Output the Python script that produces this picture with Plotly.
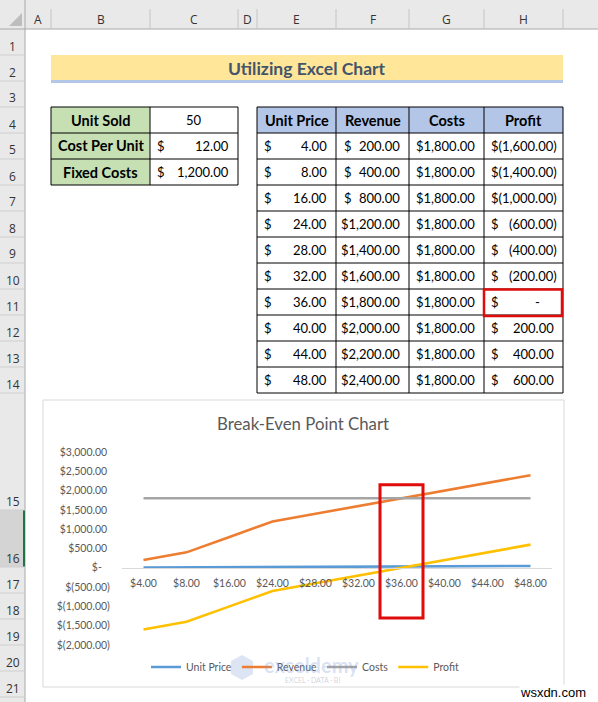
import plotly.graph_objects as go

# ---------------- data ----------------
units_sold = 50
cost_per_unit = 12.00
fixed_costs = 1200.00

unit_price = [4, 8, 16, 24, 28, 32, 36, 40, 44, 48]
revenue = [200, 400, 800, 1200, 1400, 1600, 1800, 2000, 2200, 2400]
costs = [1800, 1800, 1800, 1800, 1800, 1800, 1800, 1800, 1800, 1800]
profit = [-1600, -1400, -1000, -600, -400, -200, 0, 200, 400, 600]

y_ticks = [3000, 2500, 2000, 1500, 1000, 500, 0, -500, -1000, -1500, -2000]

col_letters = ["A", "B", "C", "D", "E", "F", "G", "H"]
row_numbers = list(range(1, 22))

series_names = ["Unit Price", "Revenue", "Costs", "Profit"]
series_colors = ["#5b9bd5", "#ed7d31", "#a5a5a5", "#ffc000"]

# ---------------- geometry helpers ----------------
W, H = 598, 702
ML, MR, MT, MB = 122, 46, 452, 57
PW = W - ML - MR
PH = H - MT - MB


def X(px):
    return (px - ML) / PW


def Y(py):
    return 1 - (py - MT) / PH


FONT = "Lato, Calibri, Carlito, sans-serif"
UI_FONT = "Open Sans, Segoe UI, sans-serif"
NUM = 13
BOLD = 14.5

shapes = []
annotations = []


def rect(x0, y0, x1, y1, fill=None, line=None, lw=1, layer="below"):
    shapes.append(dict(
        type="rect", xref="paper", yref="paper",
        x0=X(x0), x1=X(x1), y0=Y(y1), y1=Y(y0),
        fillcolor=fill if fill else "rgba(0,0,0,0)",
        line=dict(color=line if line else "rgba(0,0,0,0)", width=lw if line else 0),
        layer=layer))


def hline(x0, x1, y, color, lw=1, layer="below"):
    shapes.append(dict(type="line", xref="paper", yref="paper",
                       x0=X(x0), x1=X(x1), y0=Y(y), y1=Y(y),
                       line=dict(color=color, width=lw), layer=layer))


def vline(x, y0, y1, color, lw=1, layer="below"):
    shapes.append(dict(type="line", xref="paper", yref="paper",
                       x0=X(x), x1=X(x), y0=Y(y0), y1=Y(y1),
                       line=dict(color=color, width=lw), layer=layer))


def ann(text, px, py, size=12, color="#000000", xanchor="center", family=FONT, bg=None):
    d = dict(text=text, x=X(px), y=Y(py), xref="paper", yref="paper",
             showarrow=False, xanchor=xanchor, yanchor="middle",
             font=dict(size=size, color=color, family=family), borderpad=0)
    if bg:
        d["bgcolor"] = bg
    annotations.append(d)


def acct(v):
    if v == 0:
        return "-"
    s = f"{abs(v):,.2f}"
    return f"({s})" if v < 0 else s


# ---------------- sheet chrome ----------------
col_edges = [25, 51, 150, 238, 257, 336, 409, 484, 563]
row_edges = [29 + 26 * k for k in range(15)] + [510, 567, 593, 619, 645, 671, 697, 723]

rect(0, 0, W, 29, fill="#e9e9e9")
rect(0, 29, 25, H, fill="#e9e9e9")
rect(0, 510, 25, 567, fill="#d4d4d4")
hline(0, W, 29, "#a8a8a8")
vline(25, 0, H, "#a8a8a8")
vline(24, 510, 567, "#217346", lw=2)
for x in col_edges[1:]:
    vline(x, 9, 29, "#c4c4c4")
for y in row_edges[1:]:
    if y < H:
        hline(0, 25, y, "#cfcfcf")
shapes.append(dict(type="path", xref="paper", yref="paper",
                   path=f"M {X(9)},{Y(26)} L {X(22)},{Y(26)} L {X(22)},{Y(13)} Z",
                   fillcolor="#bdbdbd", line=dict(width=0), layer="below"))

for i, letter in enumerate(col_letters):
    cx = (col_edges[i] + col_edges[i + 1]) / 2
    ann(letter, cx, 19, size=12, color="#333333", family=UI_FONT)
for i, r in enumerate(row_numbers):
    bottom = row_edges[i + 1]
    ann(str(r), 13, bottom - 9, size=12, color="#333333", family=UI_FONT)

# ---------------- title band ----------------
rect(51, 55, 563, 80, fill="#ffe699")
rect(51, 80, 563, 83, fill="#b4c7e7")
ann("<b>Utilizing Excel Chart</b>", 307, 68, size=17.5, color="#44546a")

# ---------------- left input table ----------------
rect(51, 107, 150, 185, fill="#c6e0b4")
for y in [107, 133, 159, 185]:
    hline(51, 238, y, "#000000")
for x in [51, 150, 238]:
    vline(x, 107, 185, "#000000")
ann("<b>Unit Sold</b>", 100.5, 120, size=BOLD)
ann("<b>Cost Per Unit</b>", 100.5, 146, size=BOLD)
ann("<b>Fixed Costs</b>", 100.5, 172, size=BOLD)
ann(str(units_sold), 194, 120, size=NUM)
ann("$", 156, 146, size=NUM, xanchor="left")
ann(acct(cost_per_unit), 230, 146, size=NUM, xanchor="right")
ann("$", 156, 172, size=NUM, xanchor="left")
ann(acct(fixed_costs), 230, 172, size=NUM, xanchor="right")

# ---------------- right data table ----------------
tcols = [257, 336, 409, 484, 563]
rect(257, 107, 563, 133, fill="#b4c6e7")
for k in range(12):
    hline(257, 563, 107 + 26 * k, "#000000")
for x in tcols:
    vline(x, 107, 393, "#000000")
for i, name in enumerate(series_names):
    ann(f"<b>{name}</b>", (tcols[i] + tcols[i + 1]) / 2, 120, size=BOLD)

table_cols = [unit_price, revenue, costs, profit]
dollar_x = [263, 343, 417, 490]
for r in range(len(unit_price)):
    cy = 146 + 26 * r
    for c, vals in enumerate(table_cols):
        right = tcols[c + 1]
        v = vals[r]
        rx = right - 5 if v < 0 else (right - 22 if v == 0 else right - 8)
        if abs(v) >= 1000:
            # the number fills the cell: "$" sits right against it
            ann("$" + acct(v), rx, cy, size=NUM, xanchor="right")
        else:
            ann("$", dollar_x[c], cy, size=NUM, xanchor="left")
            ann(acct(v), rx, cy, size=NUM, xanchor="right")
rect(484, 289.5, 562, 316, line="#e00b0b", lw=2.5, layer="above")

# ---------------- chart area ----------------
rect(43, 400, 564, 687, fill="#ffffff", line="#d9d9d9", lw=1)
ann("Break-Even Point Chart", 303, 423, size=16.8, color="#595959")

# watermark
shapes.append(dict(type="path", xref="paper", yref="paper",
                   path=(f"M {X(242)},{Y(655)} L {X(253)},{Y(661)} L {X(253)},{Y(674)} "
                         f"L {X(242)},{Y(680)} L {X(231)},{Y(674)} L {X(231)},{Y(661)} Z"),
                   fillcolor="rgba(120,150,210,0.25)", line=dict(width=0), layer="above"))
ann("<b>exceldemy</b>", 311, 665, size=20, color="rgba(120,150,210,0.28)")
ann("EXCEL · DATA · BI", 312, 680, size=7, color="rgba(120,130,150,0.35)")

ann("wsxdn.com", 587, 692, size=13, color="#000000", xanchor="right",
    family="Liberation Sans, Arial, sans-serif", bg="#ffffff")

# ---------------- traces ----------------
cats = [f"${p:.2f}" for p in unit_price]
fig = go.Figure()
for name, vals, color in zip(series_names, table_cols, series_colors):
    fig.add_trace(go.Scatter(x=cats, y=vals, mode="lines", name=name,
                             line=dict(color=color, width=2.6)))

# highlight box around break-even category
shapes.append(dict(type="rect", xref="x", yref="y", x0=5.5, x1=6.5, y0=-1300, y1=2150,
                   line=dict(color="#e00b0b", width=3), fillcolor="rgba(0,0,0,0)",
                   layer="above"))


def ytick(v):
    if v == 0:
        return "$-\u00a0\u00a0\u00a0"
    if v < 0:
        return f"$({abs(v):,.2f})"
    return f"${v:,.2f}\u00a0"


fig.update_layout(
    width=W, height=H,
    margin=dict(l=ML, r=MR, t=MT, b=MB, pad=0),
    paper_bgcolor="#ffffff", plot_bgcolor="rgba(0,0,0,0)",
    showlegend=True,
    legend=dict(orientation="h", x=X(305), xanchor="center", y=Y(667), yanchor="middle",
                font=dict(size=10.5, color="#595959", family=FONT),
                bgcolor="rgba(0,0,0,0)", itemwidth=30, traceorder="normal"),
    xaxis=dict(type="category", categoryorder="array", categoryarray=cats,
               range=[-0.5, len(cats) - 0.5], anchor="free", position=0.4,
               showline=True, linecolor="#d9d9d9", linewidth=1,
               showgrid=False, zeroline=False,
               ticks="outside", ticklen=6, tickcolor="rgba(0,0,0,0)",
               tickfont=dict(size=10.5, color="#595959", family=FONT)),
    yaxis=dict(range=[-2000, 3000], tickvals=y_ticks, ticktext=[ytick(v) for v in y_ticks],
               showline=False, showgrid=False, zeroline=False,
               ticks="outside", ticklen=9, tickcolor="rgba(0,0,0,0)",
               tickfont=dict(size=10.5, color="#595959", family=FONT)),
    shapes=shapes,
    annotations=annotations,
)

fig.write_html("out.html", config={"displayModeBar": False},
               post_script="document.body.style.margin='0';document.body.style.padding='0';")
